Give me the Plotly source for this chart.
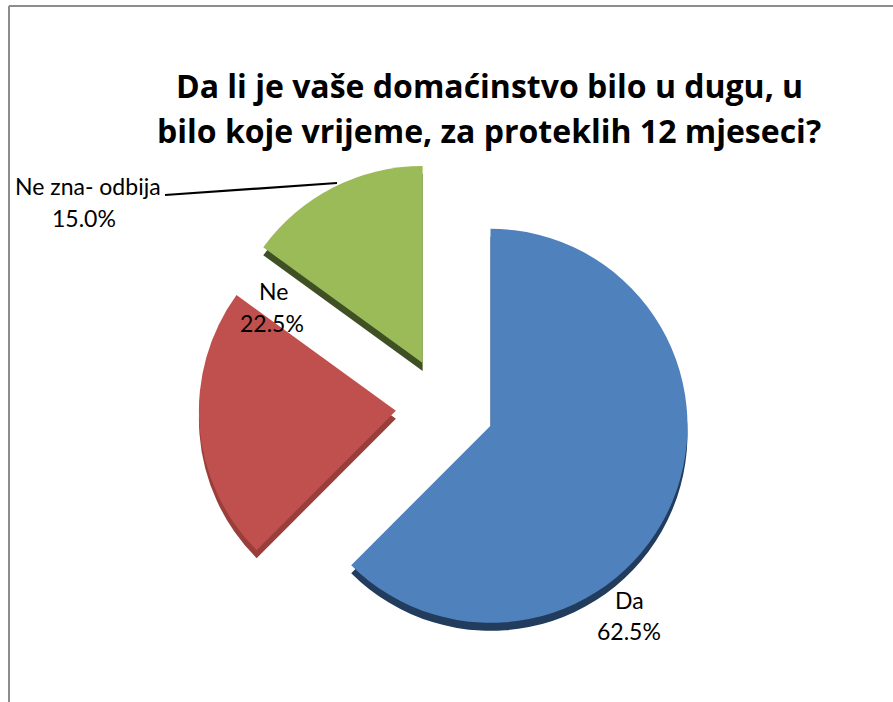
import plotly.graph_objects as go

# ---- data ----
labels = ["Da", "Ne", "Ne zna- odbija"]
values = [62.5, 22.5, 15.0]
title_lines = ["Da li je vaše domaćinstvo bilo u dugu, u",
               "bilo koje vrijeme, za proteklih 12 mjeseci?"]

# ---- style ----
colors = ["#4F81BD", "#C0504D", "#9BBB59"]
dark_colors = ["#223C5E", "#9A3E3C", "#3F5024"]
pulls = [0.25, 0.25, 0.25]
W, H = 893, 702
FONT = "Lato"
TITLE_FONT = "Open Sans"

cx, cy, R = 445, 407, 197
half = R * (1 + max(pulls))
dom_x = [(cx - half) / W, (cx + half) / W]
dom_y = [1 - (cy + half) / H, 1 - (cy - half) / H]
depth = 8 / H

fig = go.Figure()
# thickness (3D side) layer
fig.add_trace(go.Pie(
    labels=labels, values=values, sort=False, direction="clockwise", rotation=0,
    pull=pulls, marker=dict(colors=dark_colors, line=dict(width=0)),
    textinfo="none", hoverinfo="skip", showlegend=False,
    domain=dict(x=dom_x, y=[dom_y[0] - depth, dom_y[1] - depth]),
))
# top face
fig.add_trace(go.Pie(
    labels=labels, values=values, sort=False, direction="clockwise", rotation=0,
    pull=pulls, marker=dict(colors=colors, line=dict(width=0)),
    textinfo="none", showlegend=False,
    domain=dict(x=dom_x, y=dom_y),
))

def px(x):
    return x / W

def py(y):
    return 1 - y / H

annotations = []
# title lines
for line, yc in zip(title_lines, [86, 131]):
    annotations.append(dict(text=f"<b>{line}</b>", x=px(489), y=py(yc), xref="paper", yref="paper",
                            showarrow=False, xanchor="center", yanchor="middle",
                            font=dict(family=TITLE_FONT, size=32, color="#000000")))

# data labels: (name position, value position)
label_pos = [((629, 600), (629, 631)), ((273, 291), (272, 323)), ((88, 186), (84, 218))]
for lab, val, (p1, p2) in zip(labels, values, label_pos):
    annotations.append(dict(text=lab, x=px(p1[0]), y=py(p1[1]), xref="paper", yref="paper",
                            showarrow=False, xanchor="center", yanchor="middle",
                            font=dict(family=FONT, size=23, color="#000000")))
    annotations.append(dict(text=f"{val:.1f}%", x=px(p2[0]), y=py(p2[1]), xref="paper", yref="paper",
                            showarrow=False, xanchor="center", yanchor="middle",
                            font=dict(family=FONT, size=23, color="#000000")))

shapes = [
    # leader line for small slice
    dict(type="line", xref="paper", yref="paper", x0=px(165), y0=py(195), x1=px(337), y1=py(183),
         line=dict(color="#000000", width=2.2)),
    # chart frame (left and top edges)
    dict(type="line", xref="paper", yref="paper", x0=px(9), y0=py(6), x1=px(9), y1=0,
         line=dict(color="#8C8C8C", width=2)),
    dict(type="line", xref="paper", yref="paper", x0=px(9), y0=py(6), x1=1, y1=py(6),
         line=dict(color="#8C8C8C", width=2)),
]

fig.update_layout(
    width=W, height=H,
    margin=dict(l=0, r=0, t=0, b=0, pad=0),
    paper_bgcolor="#FFFFFF", plot_bgcolor="#FFFFFF",
    showlegend=False,
    annotations=annotations,
    shapes=shapes,
)

fig.write_html("out.html", config={"displayModeBar": False},
               post_script="document.body.style.margin='0px';")
